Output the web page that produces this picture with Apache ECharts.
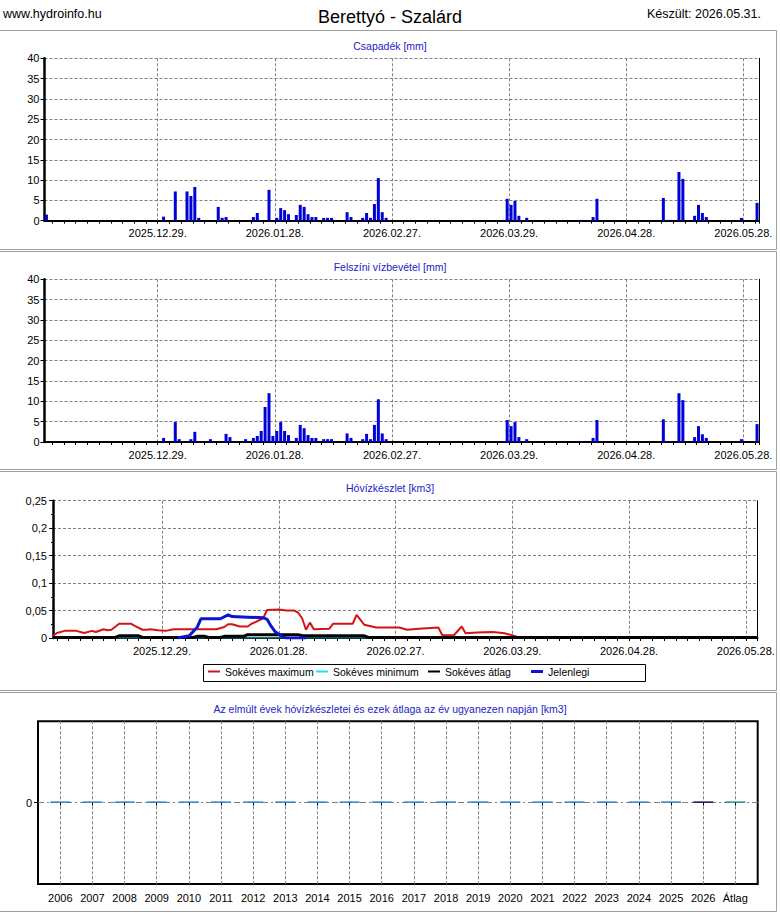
<!DOCTYPE html>
<html lang="hu">
<head>
<meta charset="UTF-8">
<title>Berettyó - Szalárd</title>
<script src="https://cdn.jsdelivr.net/npm/echarts@6/dist/echarts.min.js"></script>
<style>
  html, body { margin: 0; padding: 0; background: #fff; }
  #chart { width: 780px; height: 913px; }
</style>
</head>
<body>
<div id="chart"></div>
<script>
// napi sávok: 2025.11.30. - 2026.05.31., hóvízkészlet: 2025.12.01. - 2026.05.31.
const barStart = '2025-11-30', barDays = 183;
const lineStart = '2025-12-01', lineDays = 182;
const dateLabels = ['2025.12.29.', '2026.01.28.', '2026.02.27.', '2026.03.29.', '2026.04.28.', '2026.05.28.'];

// Csapadék [mm]
const rainDates = ['2025.11.30.', '2025.12.30.', '2026.01.02.', '2026.01.05.', '2026.01.06.', '2026.01.07.', '2026.01.08.',
  '2026.01.13.', '2026.01.14.', '2026.01.15.', '2026.01.22.', '2026.01.23.', '2026.01.26.', '2026.01.28.', '2026.01.29.',
  '2026.01.30.', '2026.01.31.', '2026.02.02.', '2026.02.03.', '2026.02.04.', '2026.02.05.', '2026.02.06.', '2026.02.07.',
  '2026.02.09.', '2026.02.10.', '2026.02.11.', '2026.02.15.', '2026.02.16.', '2026.02.19.', '2026.02.20.', '2026.02.21.',
  '2026.02.22.', '2026.02.23.', '2026.02.24.', '2026.02.25.', '2026.03.27.', '2026.03.28.', '2026.03.29.', '2026.03.30.',
  '2026.03.31.', '2026.04.02.', '2026.04.16.', '2026.04.19.', '2026.04.20.', '2026.05.07.', '2026.05.08.', '2026.05.09.',
  '2026.05.11.', '2026.05.12.', '2026.05.15.', '2026.05.16.', '2026.05.17.', '2026.05.18.', '2026.05.27.', '2026.05.31.'];
const rainMm = [1.5, 1.0, 7.2, 7.2, 6.1, 8.3, 0.7,
  3.4, 0.7, 0.9, 0.9, 1.9, 7.6, 0.7, 3.1,
  2.6, 1.6, 1.4, 3.9, 3.4, 1.6, 0.9, 0.9,
  0.7, 0.7, 0.7, 2.1, 0.9, 0.7, 1.9, 0.7,
  4.1, 10.5, 2.1, 0.7, 0.2, 5.4, 3.9, 4.9,
  1.2, 0.7, 0.2, 0.9, 5.4, 5.6, 0.2, 0.2,
  12.0, 10.3, 1.2, 3.9, 1.9, 0.9, 0.7, 4.4];

// Felszíni vízbevétel [mm]
const runoffDates = ['2025.12.30.', '2026.01.02.', '2026.01.03.', '2026.01.06.', '2026.01.07.', '2026.01.11.', '2026.01.15.',
  '2026.01.16.', '2026.01.20.', '2026.01.22.', '2026.01.23.', '2026.01.24.', '2026.01.25.', '2026.01.26.', '2026.01.27.',
  '2026.01.28.', '2026.01.29.', '2026.01.30.', '2026.01.31.', '2026.02.02.', '2026.02.03.', '2026.02.04.', '2026.02.05.',
  '2026.02.06.', '2026.02.07.', '2026.02.09.', '2026.02.10.', '2026.02.11.', '2026.02.15.', '2026.02.16.', '2026.02.19.',
  '2026.02.20.', '2026.02.21.', '2026.02.22.', '2026.02.23.', '2026.02.24.', '2026.02.25.', '2026.03.27.', '2026.03.28.',
  '2026.03.29.', '2026.03.30.', '2026.03.31.', '2026.04.02.', '2026.04.16.', '2026.04.19.', '2026.04.20.', '2026.05.07.',
  '2026.05.08.', '2026.05.09.', '2026.05.11.', '2026.05.12.', '2026.05.15.', '2026.05.16.', '2026.05.17.', '2026.05.18.',
  '2026.05.27.', '2026.05.31.'];
const runoffMm = [1.0, 4.9, 0.7, 0.7, 2.5, 0.7, 2.0,
  1.2, 0.7, 1.0, 1.5, 2.7, 8.6, 12.0, 1.5,
  2.7, 4.9, 2.7, 1.7, 1.0, 4.2, 3.4, 1.7,
  1.0, 1.0, 0.7, 0.7, 0.7, 2.1, 1.0, 0.7,
  2.0, 0.7, 4.2, 10.5, 2.1, 0.7, 0.2, 5.4,
  3.9, 4.9, 1.2, 0.7, 0.2, 1.0, 5.4, 5.6,
  0.2, 0.2, 12.0, 10.3, 1.2, 3.9, 1.9, 1.0,
  0.7, 4.4];

// Hóvízkészlet [km3]
const snowMaxDates = ['2025.12.01.', '2025.12.02.', '2025.12.04.', '2025.12.07.', '2025.12.09.', '2025.12.11.', '2025.12.12.',
  '2025.12.14.', '2025.12.15.', '2025.12.16.', '2025.12.18.', '2025.12.21.', '2025.12.22.', '2025.12.24.', '2025.12.25.',
  '2025.12.26.', '2025.12.28.', '2025.12.30.', '2026.01.01.', '2026.01.12.', '2026.01.14.', '2026.01.15.', '2026.01.16.',
  '2026.01.18.', '2026.01.20.', '2026.01.21.', '2026.01.22.', '2026.01.24.', '2026.01.25.', '2026.01.28.', '2026.01.30.',
  '2026.02.01.', '2026.02.02.', '2026.02.03.', '2026.02.04.', '2026.02.05.', '2026.02.06.', '2026.02.10.', '2026.02.11.',
  '2026.02.16.', '2026.02.17.', '2026.02.19.', '2026.02.22.', '2026.02.28.', '2026.03.02.', '2026.03.05.', '2026.03.10.',
  '2026.03.11.', '2026.03.14.', '2026.03.16.', '2026.03.17.', '2026.03.20.', '2026.03.24.', '2026.03.27.', '2026.03.29.',
  '2026.03.31.', '2026.05.31.'];
const snowMax = [0.004, 0.009, 0.013, 0.013, 0.009, 0.013, 0.011,
  0.016, 0.014, 0.015, 0.026, 0.026, 0.022, 0.015, 0.015,
  0.016, 0.014, 0.013, 0.016, 0.016, 0.020, 0.025, 0.025,
  0.021, 0.021, 0.026, 0.029, 0.036, 0.051, 0.052, 0.050,
  0.050, 0.046, 0.036, 0.015, 0.028, 0.016, 0.017, 0.026,
  0.026, 0.042, 0.024, 0.019, 0.019, 0.015, 0.017, 0.019,
  0.0055, 0.005, 0.021, 0.0085, 0.010, 0.011, 0.0085, 0.005,
  0, 0];
const snowMinDates = ['2025.12.01.', '2026.05.31.'];
const snowMin = [0, 0];
const snowAvgDates = ['2025.12.01.', '2025.12.17.', '2025.12.18.', '2025.12.23.', '2025.12.24.', '2026.01.06.', '2026.01.07.',
  '2026.01.09.', '2026.01.10.', '2026.01.13.', '2026.01.14.', '2026.01.19.', '2026.01.20.', '2026.02.02.', '2026.02.03.',
  '2026.02.19.', '2026.02.20.', '2026.05.31.'];
const snowAvg = [0.001, 0.001, 0.004, 0.004, 0.001, 0.001, 0.003,
  0.003, 0.001, 0.001, 0.003, 0.003, 0.006, 0.006, 0.004,
  0.004, 0.001, 0.001];
const snowNowDates = ['2026.01.02.', '2026.01.05.', '2026.01.07.', '2026.01.08.', '2026.01.13.', '2026.01.15.', '2026.01.16.',
  '2026.01.20.', '2026.01.24.', '2026.01.25.', '2026.01.26.', '2026.01.27.', '2026.01.28.', '2026.01.29.', '2026.01.30.',
  '2026.02.04.'];
const snowNow = [0, 0.004, 0.019, 0.035, 0.035, 0.042, 0.039,
  0.038, 0.037, 0.034, 0.022, 0.012, 0.007, 0.002, 0,
  0];

// az év ugyanezen napján [km3]
const years = ['2006', '2007', '2008', '2009', '2010', '2011', '2012', '2013', '2014', '2015', '2016',
  '2017', '2018', '2019', '2020', '2021', '2022', '2023', '2024', '2025', '2026', 'Átlag'];
const yearSnow = [0, 0, 0, 0, 0, 0, 0, 0, 0, 0, 0, 0, 0, 0, 0, 0, 0, 0, 0, 0, 0, 0];

const legendNames = ['Sokéves maximum', 'Sokéves minimum', 'Sokéves átlag', 'Jelenlegi'];
const legendLeft = [208, 316, 428, 531];

const FONT = 'Liberation Sans, Arial, sans-serif';
const BLUE = '#0000d8';
const SUB = '#2222c4';
const GRIDC = '#808080';

function fmt(d) {
  const m = String(d.getUTCMonth() + 1).padStart(2, '0');
  const dd = String(d.getUTCDate()).padStart(2, '0');
  return d.getUTCFullYear() + '.' + m + '.' + dd + '.';
}
function dayList(start, n) {
  const out = [];
  const d = new Date(start + 'T00:00:00Z');
  for (let i = 0; i < n; i++) {
    out.push(fmt(d));
    d.setUTCDate(d.getUTCDate() + 1);
  }
  return out;
}
const barCats = dayList(barStart, barDays);
const lineCats = dayList(lineStart, lineDays);

function daily(dates, vals) {
  const m = {};
  dates.forEach((d, i) => { m[d] = vals[i]; });
  return barCats.map(c => (c in m ? m[c] : 0));
}
function pairs(dates, vals) {
  return dates.map((d, i) => [d, vals[i]]);
}
const isLabel = (i, v) => dateLabels.includes(v);

function barXAxis(grid) {
  return {
    gridIndex: grid, type: 'category', data: barCats, boundaryGap: true,
    axisLine: { lineStyle: { color: '#000', width: 2 } },
    axisTick: { show: true, interval: i => i % 3 === 2, length: 3, lineStyle: { color: '#000' } },
    axisLabel: { interval: isLabel, color: '#000', fontSize: 11, fontFamily: FONT, margin: 7, padding: [0, 4, 0, 0] },
    splitLine: { show: true, interval: isLabel, lineStyle: { color: GRIDC, type: [3, 2] } }
  };
}
function topAxis(grid, data, gap, dashed) {
  return {
    gridIndex: grid, type: 'category', data: data, boundaryGap: gap, position: 'top',
    axisLine: { lineStyle: { color: '#000', width: dashed ? 1 : 1.5, type: dashed ? [3, 2] : 'solid' } },
    axisTick: { show: false }, axisLabel: { show: false }, splitLine: { show: false }
  };
}
function mmYAxis(grid) {
  return {
    gridIndex: grid, type: 'value', min: 0, max: 40, interval: 5,
    axisLine: { show: true, lineStyle: { color: '#000', width: 2.5 } },
    axisTick: { show: true, length: 4, lineStyle: { color: '#000' } },
    axisLabel: { color: '#000', fontSize: 11, fontFamily: FONT, margin: 5 },
    splitLine: { show: true, lineStyle: { color: GRIDC, type: [3, 2] } }
  };
}
function rightAxis(grid, max) {
  return {
    gridIndex: grid, type: 'value', min: 0, max: max, position: 'right',
    axisLine: { show: true, lineStyle: { color: '#000', width: 1 } },
    axisTick: { show: false }, axisLabel: { show: false }, splitLine: { show: false }
  };
}
function subtitle(text, y) {
  return { type: 'text', x: 390, y: y, silent: true,
    style: { text: text, font: '10.5px ' + FONT, fill: SUB, textAlign: 'center', textVerticalAlign: 'middle' } };
}
function frame(y, h) {
  return { type: 'rect', silent: true, z: -10,
    shape: { x: -2, y: y, width: 778.5, height: h },
    style: { fill: 'none', stroke: '#a0a0a0', lineWidth: 1 } };
}
function legendItem(name, i) {
  return {
    data: [name], left: legendLeft[i], top: 666, padding: 0, icon: 'rect',
    itemWidth: 12, itemHeight: name === 'Jelenlegi' ? 3 : 2,
    textStyle: { color: '#000', fontSize: 10.5, fontFamily: FONT }
  };
}
const yearColor = y => (y === 'Átlag' ? '#2a8c8c' : (y === '2026' ? '#10104a' : '#3080c4'));

const chart = echarts.init(document.getElementById('chart'), null, { renderer: 'svg' });
chart.setOption({
  animation: false,
  backgroundColor: '#fff',
  textStyle: { fontFamily: FONT },
  graphic: [
    frame(30.5, 219), frame(251.5, 218), frame(471.5, 219), frame(692.5, 219),
    { type: 'rect', silent: true,
      shape: { x: 203.5, y: 664.5, width: 442, height: 17 },
      style: { fill: 'none', stroke: '#000', lineWidth: 1 } },
    { type: 'text', x: 3, y: 14, silent: true,
      style: { text: 'www.hydroinfo.hu', font: '12.5px ' + FONT, fill: '#000', textAlign: 'left', textVerticalAlign: 'middle' } },
    { type: 'text', x: 390, y: 17, silent: true,
      style: { text: 'Berettyó - Szalárd', font: '18px ' + FONT, fill: '#000', textAlign: 'center', textVerticalAlign: 'middle' } },
    { type: 'text', x: 761, y: 14, silent: true,
      style: { text: 'Készült: 2026.05.31.', font: '12.5px ' + FONT, fill: '#000', textAlign: 'right', textVerticalAlign: 'middle' } },
    subtitle('Csapadék [mm]', 46),
    subtitle('Felszíni vízbevétel [mm]', 267),
    subtitle('Hóvízkészlet [km3]', 488),
    subtitle('Az elmúlt évek hóvízkészletei és ezek átlaga az év ugyanezen napján [km3]', 709)
  ],
  grid: [
    { left: 44.5, right: 21, top: 58.3, height: 162.4 },
    { left: 44.5, right: 21, top: 279.3, height: 162.7 },
    { left: 53, right: 22.5, top: 500.7, height: 137.3 },
    { left: 38, right: 22.3, top: 721.3, height: 162.7, show: true, borderColor: '#000', borderWidth: 2 },
    { left: 60.3, right: 44.7, top: 721.3, height: 162.7 }
  ],
  legend: legendNames.map(legendItem),
  xAxis: [
    barXAxis(0),
    topAxis(0, barCats, true, true),
    barXAxis(1),
    topAxis(1, barCats, true, true),
    {
      gridIndex: 2, type: 'category', data: lineCats, boundaryGap: false,
      axisLine: { lineStyle: { color: '#000', width: 2 } },
      axisTick: { show: true, interval: i => i % 3 === 1, length: 3, lineStyle: { color: '#000' } },
      axisLabel: { interval: isLabel, color: '#000', fontSize: 11, fontFamily: FONT, margin: 7 },
      splitLine: { show: true, interval: isLabel, lineStyle: { color: GRIDC, type: [3, 2] } }
    },
    topAxis(2, lineCats, false, false),
    { gridIndex: 3, type: 'value', min: 0, max: 1, show: false },
    {
      gridIndex: 4, type: 'category', data: years, boundaryGap: false,
      axisLine: { show: false },
      axisTick: { show: true, length: 3, lineStyle: { color: '#000' } },
      axisLabel: { color: '#000', fontSize: 11, fontFamily: FONT, margin: 8, interval: 0 },
      splitLine: { show: true, interval: 0, lineStyle: { color: GRIDC, type: [3, 2] } }
    }
  ],
  yAxis: [
    mmYAxis(0),
    rightAxis(0, 40),
    mmYAxis(1),
    rightAxis(1, 40),
    {
      gridIndex: 2, type: 'value', min: 0, max: 0.25, interval: 0.05,
      axisLine: { show: true, lineStyle: { color: '#000', width: 2.5 } },
      axisTick: { show: true, length: 4, lineStyle: { color: '#000' } },
      minorTick: { show: true, splitNumber: 2, length: 2, lineStyle: { color: '#000' } },
      axisLabel: { color: '#000', fontSize: 11, fontFamily: FONT, margin: 6,
        formatter: v => String(+v.toFixed(2)).replace('.', ',') },
      splitLine: { show: true, lineStyle: { color: GRIDC, type: [3, 2] } }
    },
    rightAxis(2, 0.25),
    {
      gridIndex: 3, type: 'value', min: -1, max: 1, interval: 1,
      axisLine: { show: false },
      axisTick: { show: true, length: 4, customValues: [0], lineStyle: { color: '#000' } },
      axisLabel: { color: '#000', fontSize: 11, fontFamily: FONT, margin: 6, customValues: [0],
        formatter: v => (v === 0 ? '0' : '') },
      splitLine: { show: true, lineStyle: { color: GRIDC, type: [6, 3, 2, 3] } }
    },
    { gridIndex: 4, type: 'value', min: -1, max: 1, show: false }
  ],
  series: [
    {
      name: 'Csapadék', type: 'bar', xAxisIndex: 0, yAxisIndex: 0,
      data: daily(rainDates, rainMm), barWidth: 3, itemStyle: { color: BLUE }
    },
    {
      name: 'Felszíni vízbevétel', type: 'bar', xAxisIndex: 2, yAxisIndex: 2,
      data: daily(runoffDates, runoffMm), barWidth: 3, itemStyle: { color: BLUE }
    },
    {
      name: 'Sokéves minimum', type: 'line', xAxisIndex: 4, yAxisIndex: 4,
      data: pairs(snowMinDates, snowMin), showSymbol: false,
      lineStyle: { color: '#20e0f0', width: 1 }, itemStyle: { color: '#20e0f0' }
    },
    {
      name: 'Sokéves maximum', type: 'line', xAxisIndex: 4, yAxisIndex: 4,
      data: pairs(snowMaxDates, snowMax), showSymbol: false,
      lineStyle: { color: '#d41414', width: 2 }, itemStyle: { color: '#d41414' }
    },
    {
      name: 'Sokéves átlag', type: 'line', xAxisIndex: 4, yAxisIndex: 4,
      data: pairs(snowAvgDates, snowAvg), showSymbol: false,
      lineStyle: { color: '#000', width: 3 }, itemStyle: { color: '#000' }
    },
    {
      name: 'Jelenlegi', type: 'line', xAxisIndex: 4, yAxisIndex: 4,
      data: pairs(snowNowDates, snowNow), showSymbol: false,
      lineStyle: { color: '#0a14d2', width: 3 }, itemStyle: { color: '#0a14d2' }
    },
    {
      name: 'Évek', type: 'bar', xAxisIndex: 7, yAxisIndex: 7, barWidth: 21, barMinHeight: 1, clip: false,
      data: years.map((y, i) => ({
        value: yearSnow[i],
        itemStyle: { color: yearColor(y), borderColor: yearColor(y), borderWidth: 1 }
      }))
    }
  ]
});
</script>
</body>
</html>
